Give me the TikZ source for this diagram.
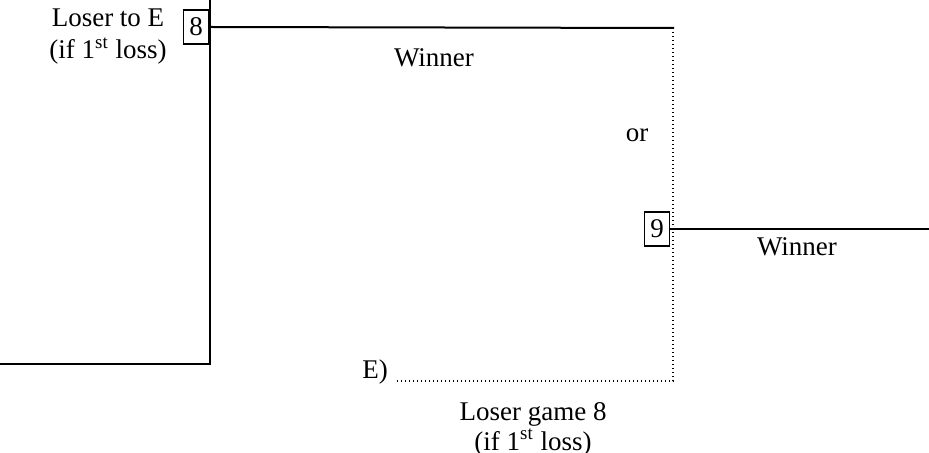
\documentclass[tikz,border=0pt]{standalone}
\usepackage{fontspec}
\setmainfont{Liberation Serif}
\usetikzlibrary{positioning, calc}

\begin{document}
\begin{tikzpicture}[
    x=0.5pt, y=-0.5pt,
    font=\fontsize{13.5}{15}\selectfont,
    game/.style={
        draw,
        line width=0.8pt,
        minimum width=12.5pt,
        minimum height=17pt,
        inner sep=0pt
    },
    bracket/.style={line width=1pt, line cap=rect},
    pending/.style={line width=0.6pt, dash pattern=on 0.6pt off 1.4pt},
    label/.style={align=center, inner sep=0pt}
]

\useasboundingbox (0,0) rectangle (929,453);

% Game 8
\node[game] (g8) at (196, 27) {8};
\node[label] (lose8) at (108, 37) {Loser to E\\[1pt](if 1\textsuperscript{st} loss)};

\coordinate (top) at (210, 0);
\coordinate (corner) at (210, 364);
\coordinate (left) at (0, 364);
\draw[bracket] (top) -- (corner) -- (left);

\coordinate (win8) at (673, 28);
\draw[bracket] (g8.east) -- (win8);
\node[label] (winner8) at (434, 58) {Winner};

% Game 9
\node[game] (g9) at (657, 229) {9};
\coordinate (out9) at (929, 229);
\draw[bracket] (g9.east) -- (out9);
\node[label] (winner9) at (797, 247) {Winner};

\node[label] (or) at (637, 135) {or};

% Second chance from E
\coordinate (ecorner) at (673, 381);
\coordinate (efrom) at (397, 381);
\draw[pending] (win8) -- (ecorner) -- (efrom);
\node[label] (e) at (375, 372) {E)};
\node[label] (lose9) at (533, 429) {Loser game 8\\(if 1\textsuperscript{st} loss)};

\end{tikzpicture}
\end{document}
